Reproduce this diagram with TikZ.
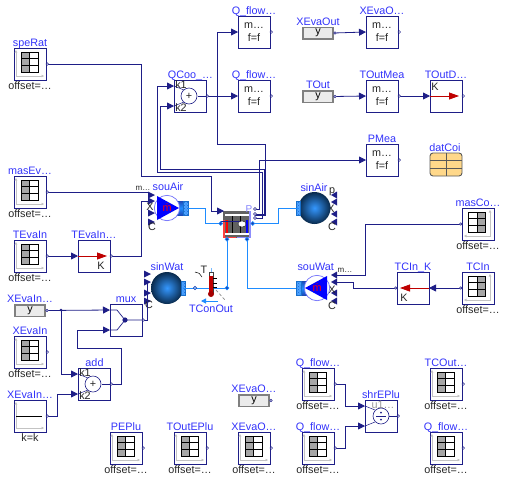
\documentclass[tikz,border=0pt]{standalone}
\usepackage{fontspec}
\setmainfont{Liberation Sans}
\usepackage{xcolor}
\usetikzlibrary{arrows.meta, positioning, calc, patterns, shapes.geometric}

\definecolor{navy}{RGB}{30,30,135}
\definecolor{labblue}{RGB}{50,50,250}
\definecolor{fluidblue}{RGB}{30,140,255}
\definecolor{axisgray}{RGB}{195,195,195}
\definecolor{datafill}{RGB}{255,216,138}

\tikzset{
    txt/.style={font=\fontsize{10.8}{12}\selectfont, inner sep=0pt, outer sep=0pt, text=black!85},
    lab/.style={txt, text=labblue, anchor=base},
    par/.style={txt, anchor=base},
    blockbox/.style={draw=navy, line width=0.8pt, fill=white, minimum size=32pt, inner sep=0pt, outer sep=0pt, align=center, font=\fontsize{10.8}{12}\selectfont, text=black!85},
    realbox/.style={draw=black!50, fill=black!8, line width=1.5pt, minimum width=30pt, minimum height=11.5pt, inner sep=0pt, outer sep=0.7pt, font=\fontsize{10.8}{12}\selectfont},
    wire/.style={draw=navy, line width=0.8pt},
    sig/.style={wire, -{Triangle[length=7pt,width=7pt]}},
    fluid/.style={draw=fluidblue, line width=0.9pt},
    outdot/.style={draw=navy, fill=white, line width=0.5pt},
    axisline/.style={draw=axisgray, line width=0.8pt, {Triangle[length=2.5pt,width=2.5pt]}-{Triangle[length=2.5pt,width=2.5pt]}},
    fluiddot/.style={draw=fluidblue, fill=navy!70!fluidblue, line width=0.6pt},
    sinkball/.style={circle, inner color=fluidblue!90!white, outer color=fluidblue!30!black, minimum size=32pt, inner sep=0pt, outer sep=0pt},
    hatchport/.style={draw=fluidblue!80!black, line width=0.3pt, pattern=crosshatch dots, pattern color=navy!35!fluidblue, preaction={fill=fluidblue!80!white}},
}

\begin{document}
\begin{tikzpicture}[x=1pt, y=-1pt]
    \useasboundingbox (0,0) rectangle (505,480);

    % table blocks
    \foreach \blk/\x/\y/\txtlab in {speRat/14/48/speRat, masEv/14/176/masEv…, TEvaIn/14/240/TEvaIn, XEvaInTab/14/336/XEvaIn, PEPlu/110/432/PEPlu, TOutEPlu/174/432/TOutEPlu, XEvaOTab/238/432/XEvaO…, QFlowSen/302/368/Q\_flow…, QFlowLat/302/432/Q\_flow…, TCOut/430/368/TCOut…, QFlowEPlu/430/432/Q\_flow…} {
        \node[blockbox] (\blk) at (\x+16,\y+16) {};
        \node[lab] (\blk-lab) at (\x+16,\y-1.5) {\txtlab};
        \node[par] (\blk-off) at (\x+16,\y+41) {offset=…};
        \begin{scope}[shift={(\x,\y)}]
            \draw[axisline] (2,2) -- (2,28) -- (30,28);
            \fill[black!35] (7,4) rectangle (15.5,24);
            \draw[black, line width=0.8pt] (7,4) rectangle (24,24) (15.5,4) -- (15.5,24) (7,10.67) -- (24,10.67) (7,17.33) -- (24,17.33);
        \end{scope}
    }
    % mirrored tables
    \foreach \blk/\x/\y/\txtlab in {masCoi/462/208/masCo…, TCIn/462/272/TCIn} {
        \node[blockbox] (\blk) at (\x+16,\y+16) {};
        \node[lab] (\blk-lab) at (\x+16,\y-1.5) {\txtlab};
        \node[par] (\blk-off) at (\x+16,\y+41) {offset=…};
        \begin{scope}[shift={(\x,\y)}]
            \draw[axisline] (28,2) -- (28,28) -- (2,28);
            \fill[black!35] (15,4) rectangle (23.5,24);
            \draw[black, line width=0.8pt] (6.5,4) rectangle (23.5,24) (15,4) -- (15,24) (6.5,10.67) -- (23.5,10.67) (6.5,17.33) -- (23.5,17.33);
        \end{scope}
    }

    % moving average blocks
    \foreach \blk/\x/\y/\txtlab in {QFlowA/238/16/Q\_flow…, QFlowB/238/80/Q\_flow…, XEvaOMea/366/16/XEvaO…, TOutMea/366/80/TOutMea, PMea/366/144/PMea} {
        \node[blockbox] (\blk) at (\x+16,\y+16) {m…\\[0.3pt]f=f};
        \node[lab] (\blk-lab) at (\x+16,\y-1.5) {\txtlab};
    }

    % real expressions
    \foreach \blk/\x/\y/\txtlab in {XEvaOut/318/33/XEvaOut, TOut/318/96.5/TOut, XEvaInRea/30/310.5/XEvaIn…, XEvaOEPlu/254/400.5/XEvaO…} {
        \node[realbox] (\blk) at (\x,\y) {\raisebox{-1.5pt}{y}};
        \node[lab] (\blk-lab) at (\x,\y-8) {\txtlab};
    }

    % constant
    \node[blockbox] (XEvaCon) at (30,416) {};
    \node[lab] (XEvaCon-lab) at (30,398.5) {XEvaIn…};
    \node[par] (XEvaCon-val) at (30,441) {k=k};
    \draw[axisline] (16,402) -- (16,428) -- (44,428);
    \draw[black, line width=0.8pt] (16,416) -- (42,416);

    % gains
    \node[blockbox] (TEvaInK) at (94,256) {};
    \node[lab] (TEvaInK-lab) at (94,238.5) {TEvaIn…};
    \draw[red!75!black, line width=0.8pt, -{Triangle[length=10pt,width=7pt]}] (TEvaInK.west) -- (107,256);
    \node[txt] (TEvaInK-k) at (101,266) {K};

    \node[blockbox] (TOutD) at (446,96) {};
    \node[lab] (TOutD-lab) at (446,78.5) {TOutD…};
    \draw[red!75!black, line width=0.8pt, -{Triangle[length=10pt,width=7pt]}] (TOutD.west) -- (459,96);
    \node[txt] (TOutD-k) at (435,87) {K};

    \node[blockbox] (TCInK) at (413,288) {};
    \node[lab] (TCInK-lab) at (413,270.5) {TCIn\_K};
    \draw[red!75!black, line width=0.8pt, -{Triangle[length=10pt,width=7pt]}] (TCInK.east) -- (400,288);
    \node[txt] (TCInK-k) at (404,298) {K};

    % adders
    \foreach \blk/\x/\y/\txtlab in {QCoo/190/96/QCoo\_…, add/94/384/add} {
        \node[blockbox] (\blk) at (\x,\y) {};
        \node[lab] (\blk-lab) at (\x+0.5,\y-17.5) {\txtlab};
        \draw[navy, line width=0.5pt] ([yshift=10pt]\blk.west) -- (\x-6,\y-6) ([yshift=-10pt]\blk.west) -- (\x-6,\y+6);
        \draw[navy, line width=0.8pt] (\blk.east) -- (\x+8,\y);
        \draw[navy, line width=0.6pt, fill=white] (\x-1,\y) circle (8);
        \node[txt] (\blk-plus) at (\x-1,\y) {+};
        \node[txt] (\blk-ka) at (\x-9,\y-11) {k1};
        \node[txt] (\blk-kb) at (\x-9,\y+12) {k2};
    }

    % mux
    \node[blockbox] (mux) at (126,320) {};
    \node[lab] (mux-lab) at (126,302.5) {mux};
    \draw[navy, line width=0.7pt] ([yshift=10pt]mux.west) -- ++(7,0) -- (125,320) -- (mux.east) ([yshift=-10pt]mux.west) -- ++(7,0) -- (125,320);
    \fill[navy] (125,320) circle (2.6);

    % division
    \node[blockbox] (shrEPlu) at (381,416) {};
    \node[lab] (shrEPlu-lab) at (381,398.5) {shrEPlu};
    \node[txt, text=black!40] (shrEPlu-u) at (383,405) {u1…};
    \draw[navy, line width=0.5pt] ([yshift=10pt]shrEPlu.west) -- (375,410) ([yshift=-10pt]shrEPlu.west) -- (375,422);
    \draw[navy, line width=0.8pt] (shrEPlu.east) -- (389,416);
    \draw[navy, line width=0.6pt, fill=white] (381,416) circle (8);
    \draw[navy, line width=0.7pt] (376,416) -- (386,416);
    \fill[navy] (381,412.5) circle (1) (381,419.5) circle (1);

    % data record
    \node[draw=black!65, fill=datafill, line width=0.9pt, rounded corners=3pt, minimum width=32pt, minimum height=23pt, inner sep=0pt, outer sep=0pt] (datCoi) at (446,164.5) {};
    \node[lab] (datCoi-lab) at (445,151) {datCoi};
    \draw[black!65, line width=0.9pt] (446,153) -- (446,176) (430,160.5) -- (462,160.5) (430,168.5) -- (462,168.5);

    % port triangles and port names
    \foreach \y [count=\i] in {195,201,213,222} {
        \coordinate (souAirIn\i) at (148,\y);
        \fill[navy] (148,\y) ++(0,-3.5) -- ++(7,3.5) -- ++(-7,3.5) -- cycle;
    }
    \foreach \y [count=\i] in {274,282,293,301} {
        \coordinate (sinWatIn\i) at (144,\y);
        \fill[navy] (144,\y) ++(0,-3.5) -- ++(7,3.5) -- ++(-7,3.5) -- cycle;
    }
    \foreach \y [count=\i] in {195,202,214,222} {
        \coordinate (sinAirIn\i) at (337,\y);
        \fill[navy] (337,\y) ++(0,-3.5) -- ++(-6,3.5) -- ++(6,3.5) -- cycle;
    }
    \foreach \y [count=\i] in {275,282,293,301} {
        \coordinate (souWatIn\i) at (337,\y);
        \fill[navy] (337,\y) ++(0,-3.5) -- ++(-6,3.5) -- ++(6,3.5) -- cycle;
    }
    \node[txt, font=\fontsize{8}{9}\selectfont] (souAir-m) at (143,188.5) {m…};
    \node[txt] (souAir-x) at (150,207) {X};
    \node[txt] (souAir-c) at (152,227) {C};
    \node[txt] (sinAir-p) at (332,192) {p};
    \node[txt] (sinAir-x) at (331,209) {X};
    \node[txt] (sinAir-c) at (332,227) {C};
    \node[txt, font=\fontsize{8}{9}\selectfont] (souWat-m) at (345,270) {m…};
    \node[txt] (souWat-x) at (332,290) {X};
    \node[txt] (souWat-c) at (332,306) {C};
    \node[txt] (sinWat-c) at (149,305) {C};

    % sinks
    \node[sinkball] (sinAir) at (314.5,208) {};
    \node[lab] (sinAir-lab) at (314,191) {sinAir};
    \draw[hatchport] (296,201) rectangle (300,215);
    \node[sinkball] (sinWat) at (167,288) {};
    \node[lab] (sinWat-lab) at (167,270.7) {sinWat};
    \draw[hatchport] (181,281) rectangle (185,295);

    % pumps
    \foreach \pump/\x/\y/\s/\lx in {souAir/167/208/1/168, souWat/317/288/-1/315.7} {
        \begin{scope}[shift={(\x,\y)}, xscale=\s]
            \shade[top color=navy!60!fluidblue, bottom color=navy!60!fluidblue, middle color=fluidblue] (10,-7) rectangle (21,7);
            \draw[hatchport] (16,-7) rectangle (21,7);
            \node[circle, draw=labblue!70, fill=white, line width=0.7pt, minimum size=25.4pt, inner sep=0pt, outer sep=0pt] (\pump) at (0,0) {};
            \fill[blue] (-10,-12) -- (12,0) -- (-10,12) -- cycle;
        \end{scope}
        \node[txt, text=red] (\pump-m) at (\x,\y) {ṁ};
        \node[lab] (\pump-lab) at (\lx,\y-17.3) {\pump};
    }

    % coil
    \node[fill=black!62, minimum width=27pt, minimum height=27pt, inner sep=0pt, outer sep=0pt] (coil) at (236.5,224.5) {};
    \draw[red!75, line width=1.6pt] (223.8,220) -- (223.8,237.5) -- (236,237.5);
    \draw[labblue!55, line width=1.6pt] (250,211) -- (250,237.5) -- (237,237.5);
    \draw[white, line width=1.6pt] (225,215) -- (249,215) (225,233.7) -- (249,233.7);
    \draw[black, line width=0.9pt] (232,216) -- (232,233) (240,216) -- (240,233);
    \draw[red, line width=2.2pt] (227,220) -- (227,233);
    \draw[blue, line width=2.2pt] (247,220) -- (247,233);
    \draw[navy, line width=0.7pt] (221,221) -- (241,221);
    \node[ellipse, fill=white, draw=black, line width=0.3pt, minimum width=8pt, minimum height=6pt, inner sep=0pt, outer sep=0pt] (coil-fan) at (242,224) {};
    \node[txt, text=labblue!60, font=\fontsize{10}{12}\selectfont] (coil-p) at (249,209) {P};
    \coordinate (coilSen) at (224,211);
    \coordinate (coilAirIn) at (220.7,223.5);
    \coordinate (coilAirOut) at (252.7,223.5);
    \coordinate (coilWatIn) at (227,239.3);
    \coordinate (coilWatOut) at (247,239.3);
    \coordinate (coilPEl) at (255,209);
    \coordinate (coilQLat) at (255,214);
    \coordinate (coilQSen) at (255,218);

    % air and water streams
    \draw[fluid] (188,208) -- (205,208) |- (coilAirIn);
    \draw[fluid] (coilAirOut) -- (278.5,223.5) |- (sinAir.west);
    \coordinate (watJun) at (227,288);
    \coordinate (senPort) at (195,288);
    \draw[fluid] (sinWat.east) -- (watJun) -- (coilWatIn);
    \draw[fluid] (coilWatOut) |- (296,288);

    % temperature sensor
    \draw[black!75, line width=0.6pt, fill=white] (209,272) rectangle (213,293);
    \fill[red!75!black] (209.2,276) rectangle (212.8,293);
    \fill[red!65!black] (211,294) circle (3);
    \draw[black, line width=0.6pt] (213,278) -- (217,278) (213,283) -- (217,283) (213,287) -- (217,287);
    \draw[fluidblue!60, line width=0.6pt] (211,272) -- (211,268);
    \draw[black!45, line width=0.7pt, densely dashed] (216,290) -- (225,300);
    \draw[black, line width=0.5pt] (195,272) .. controls (198,272) and (201,274) .. (202,277);
    \node[txt] (TConOut-t) at (204,270) {T};
    \draw[fluidblue, line width=1pt, -{Triangle[length=5pt,width=5pt]}] (218,301) -- (201,301);
    \node[lab] (TConOut-lab) at (211,312.7) {TConOut};

    % signal connections
    \draw[sig] (speRat.east) -- (141.5,64) |- (211.7,176.5) |- (coilSen);
    \draw[wire] (masEv.east) -| (souAirIn1);
    \draw[sig] (TEvaIn.east) -- (TEvaInK.west);
    \draw[wire] (TEvaInK.east) -- (141.5,256) |- (souAirIn2);
    \draw[sig] (XEvaInRea.east) -- ([yshift=10pt]mux.west);
    \coordinate (XEvaJun) at (61,310);
    \fill[navy] (XEvaJun) circle (1.3);
    \draw[sig] (XEvaJun) |- ([yshift=10pt]add.west);
    \draw[sig] (XEvaCon.east) -- (57,416) |- ([yshift=-10pt]add.west);
    \draw[sig] (add.east) -- (121.3,384) |- (77.7,348) |- ([yshift=-10pt]mux.west);
    \draw[wire] (mux.east) -- (147,320) |- (sinWatIn2);
    \draw[sig] (QCoo.east) -- (QFlowB.west);
    \draw[sig] (coilQSen) -- (262,218) |- (157.3,172.3) |- ([yshift=10pt]QCoo.west);
    \draw[sig] (coilQLat) -- (264,214) |- (160.7,169.3) |- ([yshift=-10pt]QCoo.west);
    \draw[wire] (coilQSen) ++(0,-3) -- (265.7,215) |- (217.3,144.3) -- (217.3,32);
    \draw[sig] (217.3,32) -- (QFlowA.west);
    \draw[sig] (coilPEl) -- (259,209) |- (PMea.west);
    \draw[sig] (XEvaOut.east) -- (XEvaOMea.west);
    \draw[sig] (TOut.east) -- (TOutMea.west);
    \draw[sig] (TOutMea.east) -- (TOutD.west);
    \draw[wire] (masCoi.west) -- (365.3,224) |- (souWatIn1);
    \draw[wire] (TCInK.west) -- (353,288) |- (souWatIn2);
    \draw[sig] (TCIn.west) -- (TCInK.east);
    \draw[sig] (QFlowSen.east) -- (345.7,384) |- ([yshift=10pt]shrEPlu.west);
    \draw[sig] (QFlowLat.east) -- (345.7,448) |- ([yshift=-10pt]shrEPlu.west);

    % output dots
    \foreach \blk in {speRat,masEv,TEvaIn,TEvaInK,XEvaInTab,XEvaInRea,XEvaCon,mux,add,PEPlu,TOutEPlu,XEvaOTab,XEvaOEPlu,QFlowSen,QFlowLat,TCOut,QFlowEPlu,shrEPlu,QCoo,QFlowA,QFlowB,XEvaOut,TOut,XEvaOMea,TOutMea,TOutD,PMea} {
        \draw[outdot] (\blk.east) ++(1.3,0) circle (1.3);
    }
    \foreach \blk in {masCoi,TCIn,TCInK} {
        \draw[outdot] (\blk.west) ++(-1.3,0) circle (1.3);
    }

    % fluid port dots
    \foreach \p in {coilAirIn,coilAirOut,coilWatIn,coilWatOut,watJun} {
        \filldraw[fluiddot] (\p) circle (1.9);
    }
    \filldraw[draw=navy!70!fluidblue, fill=fluidblue!50, line width=0.6pt] (senPort) circle (1.7);
    \foreach \p in {coilPEl,coilQLat,coilQSen} {
        \draw[draw=navy, fill=white, line width=0.5pt] (\p) circle (1.5);
    }
\end{tikzpicture}
\end{document}
